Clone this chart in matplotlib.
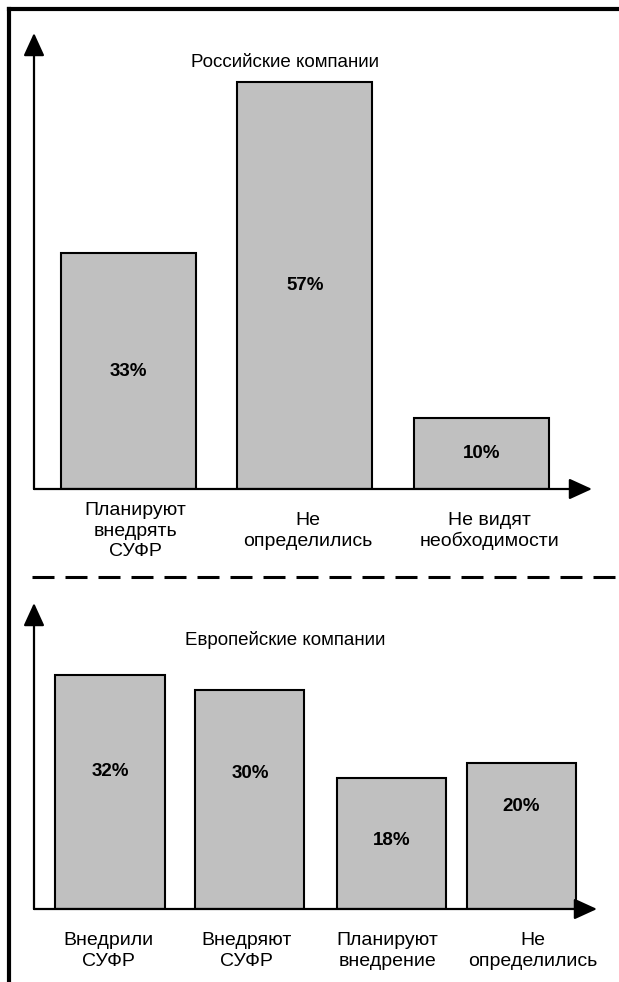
import matplotlib.pyplot as plt
from matplotlib.lines import Line2D

plt.rcParams['font.family'] = ['Liberation Sans', 'DejaVu Sans']
plt.rcParams['lines.scale_dashes'] = False

# Russian companies
ru_title = 'Российские компании'
ru_labels = ['Планируют\nвнедрять\nСУФР', 'Не\nопределились', 'Не видят\nнеобходимости']
ru_values = [33, 57, 10]

# European companies
eu_title = 'Европейские компании'
eu_labels = ['Внедрили\nСУФР', 'Внедряют\nСУФР', 'Планируют\nвнедрение', 'Не\nопределились']
eu_values = [32, 30, 18, 20]

W, H = 619, 982
BAR_COLOR = '#c0c0c0'
FONT_SIZE = 13.5


def px_axes(fig, left, top, right, bottom):
    return fig.add_axes([left / W, 1 - bottom / H,
                         (right - left) / W, (bottom - top) / H])


def draw_panel(ax, labels, values, width, title, title_xy,
               pos=None, label_pos=None, label_dx=None):
    x = list(range(len(values))) if pos is None else pos
    dx = [0] * len(values) if label_dx is None else label_dx
    ax.bar(x, values, width=width, color=BAR_COLOR, edgecolor='black',
           linewidth=1.5, zorder=2)
    for i, v in enumerate(values):
        frac = 0.5 if label_pos is None else label_pos[i]
        ax.text(x[i], v * frac, '%d%%' % v, ha='center', va='center',
                fontsize=FONT_SIZE, fontweight='bold')
        # category caption under the x axis (offsets in pixels)
        ax.annotate(labels[i], xy=(x[i], 0),
                    xytext=(dx[i] * 0.72, -42 * 0.72),
                    textcoords='offset points', ha='center', va='center',
                    fontsize=14, linespacing=1.24,
                    annotation_clip=False)
    ax.text(title_xy[0], title_xy[1], title, transform=ax.transAxes,
            ha='center', va='center', fontsize=FONT_SIZE)

    # axes drawn as arrows
    arrow = dict(arrowstyle='-|>,head_length=0.7,head_width=0.32',
                 mutation_scale=20, color='black', lw=1.6,
                 shrinkA=0, shrinkB=0)
    ax.annotate('', xy=(0, 1), xytext=(0, 0), xycoords='axes fraction',
                arrowprops=arrow, annotation_clip=False)
    ax.annotate('', xy=(1, 0), xytext=(0, 0), xycoords='axes fraction',
                arrowprops=arrow, annotation_clip=False)
    for s in ax.spines.values():
        s.set_visible(False)
    ax.set_xticks([])
    ax.set_yticks([])
    ax.patch.set_alpha(0)


fig = plt.figure(figsize=(W / 100, H / 100), dpi=100)

ax1 = px_axes(fig, 34, 33, 592, 489)
draw_panel(ax1, ru_labels, ru_values, 0.765, ru_title, (0.45, 0.936),
           label_dx=[7, 3, 8])
ax1.set_xlim(-0.535, 2.626)
ax1.set_ylim(0, 63.8)

ax2 = px_axes(fig, 34, 603, 597, 909)
draw_panel(ax2, eu_labels, eu_values, 0.795, eu_title, (0.446, 0.879),
           pos=[0, 1.02, 2.05, 3],
           label_pos=[0.59, 0.62, 0.52, 0.7],
           label_dx=[-2, -3, -4, 11])
ax2.set_xlim(-0.554, 3.55)
ax2.set_ylim(0, 41.9)

# frame and separator in pixel coordinates
overlay = fig.add_axes([0, 0, 1, 1], zorder=-1)
overlay.set_xlim(0, W)
overlay.set_ylim(H, 0)
overlay.axis('off')
overlay.add_line(Line2D([9, 9], [982, 9], color='black', lw=3,
                        solid_capstyle='projecting'))
overlay.add_line(Line2D([9, 619], [9, 9], color='black', lw=3,
                        solid_capstyle='projecting'))
overlay.add_line(Line2D([32, 619], [577, 577], color='black', lw=2.2,
                        dashes=(22 * 0.72, 11 * 0.72)))

fig.savefig('out.png', dpi=100)
